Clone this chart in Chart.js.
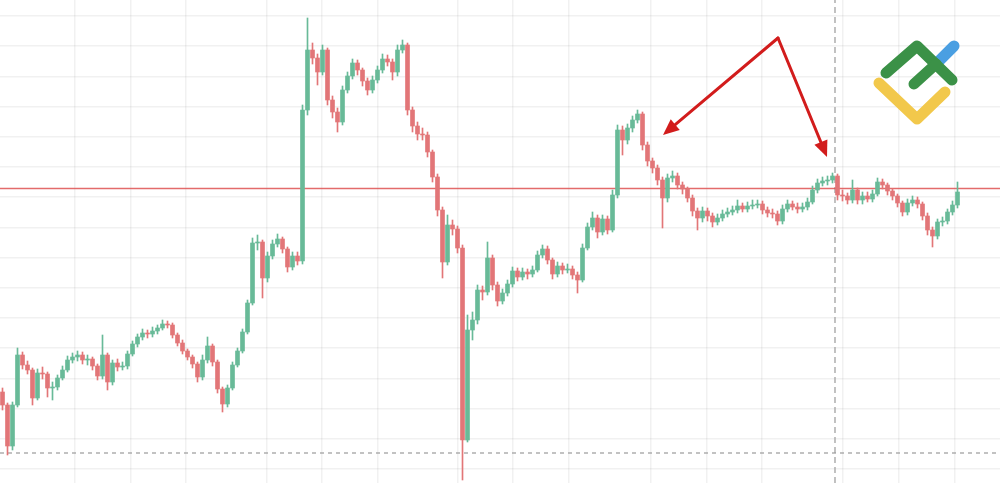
<!DOCTYPE html>
<html>
<head>
<meta charset="utf-8">
<script src="https://cdn.jsdelivr.net/npm/chart.js@4/dist/chart.umd.min.js"></script>
<style>
  html, body { margin: 0; padding: 0; background: #fff; }
  #wrap { width: 1000px; height: 483px; position: relative; }
</style>
</head>
<body>
<div id="wrap"><canvas id="chart"></canvas></div>
<script>
// price path, one candle per slot (open = previous close)
const firstOpen = 108;
const closes = [
  95,54,95,145,135,130,102,127,126,112,
  113,122,130,140,143,145,140,141,134,124,
  145,118,137,133,134,146,156,163,167,166,
  169,172,176,175,165,157,149,143,136,123,
  140,154,138,111,96,112,135,149,168,197,
  257,258,222,244,256,261,251,233,244,239,
  390,450,442,428,450,400,388,378,410,424,
  437,430,419,410,420,430,441,438,428,450,
  455,390,374,366,365,348,323,290,238,275,
  271,252,60,170,180,210,208,242,215,199,
  207,216,229,223,228,226,230,245,251,240,
  226,234,230,231,225,220,252,273,282,268,
  281,270,305,370,360,372,380,386,355,339,
  332,320,302,322,324,315,311,302,289,282,
  289,284,278,282,286,288,290,294,291,294,
  295,296,290,287,286,279,291,296,293,291,
  293,298,310,317,319,320,324,305,304,300,
  310,300,304,301,306,318,315,309,304,297,
  288,297,300,296,284,270,264,278,279,288,
  295,308
];
const highs = [
  112,97,98,152,148,139,132,131,133,128,
  118,125,134,144,147,149,148,145,143,136,
  165,147,140,141,138,149,159,166,171,170,
  173,175,180,179,177,167,160,151,145,138,
  145,163,156,140,113,115,138,152,171,200,
  262,265,260,248,260,266,263,253,248,248,
  395,482,457,446,455,452,404,392,414,428,
  441,440,432,422,424,434,446,445,441,455,
  460,457,393,378,372,368,350,326,293,285,
  280,274,255,185,188,215,214,258,245,218,
  211,220,233,232,232,231,234,249,255,254,
  242,238,237,236,234,228,256,277,288,285,
  285,284,310,375,374,376,384,390,388,358,
  342,335,323,326,329,327,318,313,305,292,
  293,292,287,286,290,292,294,300,297,298,
  300,300,299,293,291,289,295,300,299,297,
  297,302,314,321,323,324,327,326,310,307,
  320,312,308,308,310,322,321,317,311,306,
  299,301,304,303,298,287,273,281,283,291,
  299,318
];
const lows = [
  90,45,50,93,131,126,95,100,121,103,
  100,110,120,128,137,139,136,135,130,120,
  121,110,115,129,130,131,144,153,160,162,
  163,166,170,172,162,154,146,140,132,118,
  120,137,134,107,88,93,110,133,147,166,
  195,250,202,218,241,253,247,228,230,235,
  236,385,436,415,425,395,382,368,375,407,
  421,425,414,405,407,417,427,434,420,424,
  447,385,368,360,360,343,318,284,222,235,
  265,247,20,58,160,176,200,205,210,194,
  196,204,213,219,220,221,223,228,242,236,
  221,223,226,227,221,207,218,250,270,262,
  265,266,268,302,345,356,368,377,350,334,
  327,315,272,298,318,311,306,298,284,270,
  278,279,273,275,279,283,285,287,288,288,
  291,292,286,283,282,275,276,288,290,287,
  288,290,296,307,314,315,317,300,299,296,
  297,296,296,298,298,304,311,305,300,293,
  284,285,294,292,280,265,253,261,274,276,
  285,292
];

// grid positions (candle slots / price levels)
const xGrid = [14.5, 25.7, 36.7, 52.9, 63.9, 75.1, 91.1, 102.1, 113.3, 129.7, 140.9, 151.9, 168.1, 179.3, 190.5];
const yGrid = [484, 453.8, 423.6, 393.4, 363.2, 333, 302.8, 272.6, 242.4, 212.2, 182, 151.8, 121.6, 91.4, 61.2, 31];

// levels and markers
const resistance = 311.5;
const support = 47;
const markerSlot = 166.5;
const arrowFrom = { x: 155.1, y: 462 };
const arrowTips = [{ x: 132.1, y: 365 }, { x: 164.9, y: 343 }];

const X_MIN = -0.5, X_MAX = 199.5, Y_MIN = 17, Y_MAX = 500;

const UP = 'rgb(104, 186, 152)';
const DOWN = 'rgb(226, 118, 120)';

const opens = closes.map((c, i) => i === 0 ? firstOpen : closes[i - 1]);
const candleColors = closes.map((c, i) => c >= opens[i] ? UP : DOWN);

const bodies = closes.map((c, i) => ({ x: i, y: [opens[i], c] }));
const wicks = closes.map((c, i) => ({ x: i, y: [lows[i], highs[i]] }));

function drawArrow(ctx, x0, y0, x1, y1) {
  const a = Math.atan2(y1 - y0, x1 - x0);
  const head = 16, half = 7;
  const bx = x1 - head * Math.cos(a), by = y1 - head * Math.sin(a);
  ctx.beginPath();
  ctx.moveTo(x0, y0);
  ctx.lineTo(bx, by);
  ctx.stroke();
  ctx.beginPath();
  ctx.moveTo(x1, y1);
  ctx.lineTo(bx + half * Math.sin(a), by - half * Math.cos(a));
  ctx.lineTo(bx - half * Math.sin(a), by + half * Math.cos(a));
  ctx.closePath();
  ctx.fill();
}

const overlayPlugin = {
  id: 'overlay',
  afterDatasetsDraw(chart) {
    const { ctx, chartArea, scales } = chart;
    const xs = scales.x, ys = scales.y;

    // arrows
    ctx.save();
    ctx.strokeStyle = '#d21c1c';
    ctx.fillStyle = '#d21c1c';
    ctx.lineWidth = 3;
    ctx.lineCap = 'round';
    const ax = xs.getPixelForValue(arrowFrom.x), ay = ys.getPixelForValue(arrowFrom.y);
    arrowTips.forEach(t => {
      drawArrow(ctx, ax, ay, xs.getPixelForValue(t.x), ys.getPixelForValue(t.y));
    });
    ctx.restore();

    // logo watermark (top right)
    const R = chartArea.right, T = chartArea.top;
    ctx.save();
    ctx.lineCap = 'round';
    ctx.lineJoin = 'round';
    ctx.lineWidth = 11;
    ctx.strokeStyle = '#f2c84b';
    ctx.beginPath();
    ctx.moveTo(R - 121, T + 83);
    ctx.lineTo(R - 83, T + 119);
    ctx.lineTo(R - 55, T + 92);
    ctx.stroke();
    ctx.strokeStyle = '#4a9fe2';
    ctx.beginPath();
    ctx.moveTo(R - 64, T + 64);
    ctx.lineTo(R - 46, T + 46);
    ctx.stroke();
    ctx.strokeStyle = '#3b9147';
    ctx.beginPath();
    ctx.moveTo(R - 114, T + 73);
    ctx.lineTo(R - 83, T + 46);
    ctx.lineTo(R - 48, T + 80);
    ctx.stroke();
    ctx.beginPath();
    ctx.moveTo(R - 86, T + 84);
    ctx.lineTo(R - 64, T + 64);
    ctx.stroke();
    ctx.restore();
  }
};

new Chart(document.getElementById('chart'), {
  type: 'bar',
  data: {
    datasets: [
      {
        type: 'line',
        label: 'level',
        data: [{ x: X_MIN, y: resistance }, { x: X_MAX, y: resistance }],
        borderColor: 'rgba(220, 70, 70, 0.8)',
        borderWidth: 1.6,
        pointRadius: 0,
        order: 5
      },
      {
        type: 'line',
        label: 'support',
        data: [{ x: X_MIN, y: support }, { x: X_MAX, y: support }],
        borderColor: '#9a9a9a',
        borderWidth: 1.2,
        borderDash: [4, 4],
        pointRadius: 0,
        order: 5
      },
      {
        type: 'line',
        label: 'marker',
        data: [{ x: markerSlot, y: Y_MIN }, { x: markerSlot, y: Y_MAX }],
        borderColor: '#a8a8a8',
        borderWidth: 1.4,
        borderDash: [6, 4],
        pointRadius: 0,
        order: 5
      },
      {
        label: 'wicks',
        data: wicks,
        backgroundColor: candleColors,
        barThickness: 1,
        grouped: false,
        order: 2
      },
      {
        label: 'bodies',
        data: bodies,
        backgroundColor: candleColors,
        barThickness: 4,
        minBarLength: 1,
        grouped: false,
        order: 1
      }
    ]
  },
  options: {
    responsive: true,
    maintainAspectRatio: false,
    animation: false,
    layout: { padding: 0 },
    plugins: {
      legend: { display: false },
      tooltip: { enabled: false }
    },
    scales: {
      x: {
        type: 'linear',
        offset: false,
        min: X_MIN,
        max: X_MAX,
        border: { display: false },
        grid: { color: 'rgba(0, 0, 0, 0.055)', lineWidth: 1.5, drawTicks: false, offset: false },
        ticks: { display: false },
        afterBuildTicks: axis => { axis.ticks = xGrid.map(v => ({ value: v })); }
      },
      y: {
        min: Y_MIN,
        max: Y_MAX,
        border: { display: false },
        grid: { color: 'rgba(0, 0, 0, 0.055)', lineWidth: 1.5, drawTicks: false },
        ticks: { display: false },
        afterBuildTicks: axis => { axis.ticks = yGrid.map(v => ({ value: v })); }
      }
    }
  },
  plugins: [overlayPlugin]
});
</script>
</body>
</html>
